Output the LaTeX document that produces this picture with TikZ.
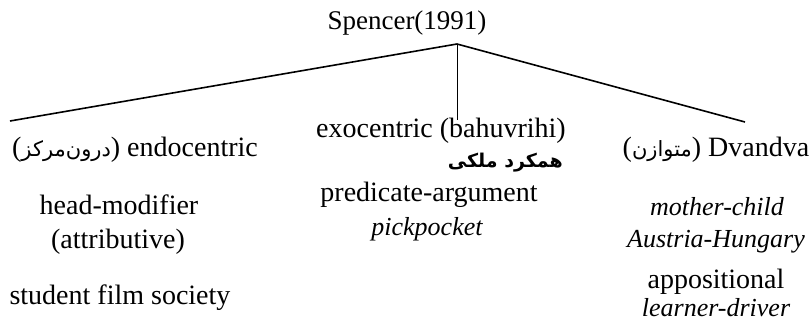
\documentclass[tikz,border=0pt]{standalone}
\usepackage{fontspec}
\setmainfont{Liberation Serif}
\TeXXeTstate=1
\newfontfamily\fa[Script=Arabic]{DejaVu Sans}
\begin{document}
\begin{tikzpicture}[x=1pt,y=-1pt,
  txt/.style={inner sep=0pt,font=\rmfamily\fontsize{28}{32}\selectfont},
  ex/.style={txt,font=\rmfamily\fontsize{26}{30}\selectfont\itshape},
  branch/.style={line width=1.6pt},
  stem/.style={line width=1pt}]
\useasboundingbox (0,0) rectangle (812,324);
% root
\node[txt,font=\rmfamily\fontsize{27}{30}\selectfont] (root) at (407,23) {Spencer(1991)};
\coordinate (apex) at (457,44);
\coordinate (lend) at (10,121);
\coordinate (rend) at (745,122);
\coordinate (vend) at (457,120);
\draw[branch] (apex) -- (lend);
\draw[branch] (apex) -- (rend);
\draw[stem] (apex) -- (vend);
% left column
\node[txt] (endo) at (135,150) {({\fa\fontsize{21}{24}\selectfont\beginR درون‌مرکز\endR}) endocentric};
\node[txt] (hm) at (119,205) {head-modifier};
\node[txt] (attr) at (118,242) {(attributive)};
\node[txt] (sfs) at (120,298) {student film society};
% middle column
\node[txt] (exo) at (441,131) {exocentric (bahuvrihi)};
\node[txt,anchor=east] (exofa) at (563,163) {\fa\bfseries\fontsize{19}{22}\selectfont\beginR همکرد ملکی\endR};
\node[txt] (pa) at (429,195) {predicate-argument};
\node[ex] (pp) at (427,229) {pickpocket};
% right column
\node[txt] (dv) at (716,150) {({\fa\fontsize{21}{24}\selectfont\beginR متوازن\endR}) Dvandva};
\node[ex] (mc) at (717,207) {mother-child};
\node[ex] (ah) at (716,242) {Austria-Hungary};
\node[txt] (app) at (716,282) {appositional};
\node[ex] (ld) at (716,308) {learner-driver};
\end{tikzpicture}
\end{document}
